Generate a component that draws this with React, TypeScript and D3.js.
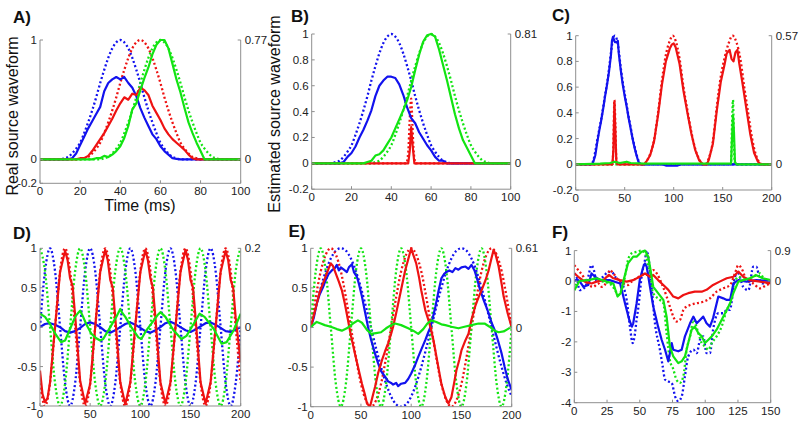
import React from 'react';
import * as d3 from 'd3';

type Pt = [number, number];

// ---------- shared grids / ticks ----------
const timeAB = d3.range(0, 101, 2);
const grid5 = d3.range(0, 201, 5);
const xTicksAB = [0, 20, 40, 60, 80, 100];
const xTicks200 = [0, 50, 100, 150, 200];
const xTicksF = [0, 25, 50, 75, 100, 125, 150];
const yTicksA = [-0.2, 0, 1];
const yTicksBC = [-0.2, 0, 0.2, 0.4, 0.6, 0.8, 1];
const yTicksDE = [-1, -0.5, 0, 0.5, 1];
const yTicksF = [-4, -3, -2, -1, 0, 1];

// ---------- Panel A (x = 0..100 step 2) ----------
const aBlueDot = [0,0,0,0,0, 0,0.01,0.02,0.05,0.09, 0.14,0.22,0.31,0.41,0.52, 0.64,0.75,0.85,0.93,0.98, 1,0.98,0.93,0.85,0.75, 0.64,0.52,0.41,0.31,0.22, 0.14,0.09,0.05,0.02,0.01, 0,0,0,0,0,0,0,0,0,0,0,0,0,0,0,0];
const aRedDot = [0,0,0,0,0,0,0,0,0,0, 0,0.01,0.02,0.05,0.09, 0.14,0.22,0.31,0.41,0.52, 0.64,0.75,0.85,0.93,0.98, 1,0.98,0.93,0.85,0.75, 0.64,0.52,0.41,0.31,0.22, 0.14,0.09,0.05,0.02,0.01, 0,0,0,0,0,0,0,0,0,0,0];
const aGreenDot = [0,0,0,0,0,0,0,0,0,0,0,0,0,0,0, 0,0.01,0.02,0.05,0.09, 0.14,0.22,0.31,0.41,0.52, 0.64,0.75,0.85,0.93,0.98, 1,0.98,0.93,0.85,0.75, 0.64,0.52,0.41,0.31,0.22, 0.14,0.09,0.05,0.02,0.01, 0,0,0,0,0,0];
const aBlueSolid = [0,0,0,0,0,0,0,0,0.01, 0.05,0.12,0.19,0.26,0.32,0.38,0.44,0.57,0.64,0.67,0.69,0.67,0.69,0.64,0.6,0.53,0.43,0.35,0.28,0.21,0.17,0.11,0.07,0.04,0.01, 0.005,0,0,0,0,0,0,0,0,0,0,0,0,0,0,0,0];
const aRedSolid = [0,0,0,0,0,0,0,0,0,0,0.01, 0.01,0.03,0.07,0.12,0.17,0.22,0.28,0.34,0.41,0.47,0.52,0.5,0.55,0.54,0.6,0.58,0.54,0.45,0.39,0.33,0.26,0.21,0.17,0.14,0.11,0.08,0.04,0.01, 0,0,0,0,0,0,0,0,0,0,0,0];
const aGreenSolid = [0,0,0,0,0,0,0,0,0,0,0,0,0,0,0.01, 0.01,0.03,0.02,0.04,0.07,0.11,0.18,0.28,0.42,0.47,0.58,0.68,0.77,0.88,0.96,1,1,0.93,0.8,0.67,0.56,0.43,0.31,0.22,0.14,0.07, 0,0,0,0,0,0,0,0,0,0];

// ---------- Panel B ----------
const bBlueDot = [0,0,0,0,0, 0,0.01,0.02,0.05,0.09, 0.14,0.22,0.31,0.41,0.52, 0.64,0.75,0.85,0.93,0.98, 1,0.98,0.93,0.85,0.75, 0.64,0.52,0.41,0.31,0.22, 0.14,0.09,0.05,0.02,0.01, 0,0,0,0,0,0,0,0,0,0,0,0,0,0,0,0];
const bGreenDot = [0,0,0,0,0,0,0,0,0,0,0,0,0,0,0, 0,0.01,0.02,0.05,0.09, 0.14,0.22,0.31,0.41,0.52, 0.64,0.75,0.85,0.93,0.98, 1,0.98,0.93,0.85,0.75, 0.64,0.52,0.41,0.31,0.22, 0.14,0.09,0.05,0.02,0.01, 0,0,0,0,0,0];
const bRedDot: Pt[] = [[0,0],[47.5,0],[48.5,0.08],[49.3,0.35],[50,0.5],[50.6,0.3],[51.3,0.08],[52.3,0],[100,0]];
const bBlueSolid = [0,0,0,0,0,0,0,0,0.01, 0.05,0.08,0.13,0.2,0.26,0.33,0.41,0.52,0.6,0.64,0.67,0.67,0.66,0.61,0.53,0.43,0.35,0.31,0.24,0.19,0.14,0.1,0.05,0.02,0.02, 0,0,0,0,0,0,0,0,0,0,0,0,0,0,0,0,0];
const bRedSolid: Pt[] = [[0,0],[48.5,0],[49.3,0.1],[50,0.28],[50.7,0.14],[51.6,0],[100,0]];
const bGreenSolid = [0,0,0,0,0,0,0,0,0,0,0,0,0,0,0.01, 0.02,0.06,0.07,0.1,0.15,0.2,0.27,0.34,0.41,0.49,0.59,0.72,0.84,0.94,0.99,1,0.98,0.88,0.76,0.64,0.51,0.38,0.27,0.18,0.12,0.06, 0,0,0,0,0,0,0,0,0,0];

// ---------- Panel C ----------
const cBlueDot: Pt[] = [[0,0],[16,0],[18,0.03],[20,0.1],[22,0.19],[24,0.27],[26,0.35],[28,0.44],[30,0.54],[32,0.63],[34,0.74],[36,0.87],[38,0.97],[40,1],[42,0.97],[44,0.88],[46,0.75],[48,0.64],[50,0.55],[52,0.46],[54,0.37],[56,0.29],[58,0.21],[60,0.14],[62,0.08],[64,0.03],[66,0.005],[68,0],[200,0]];
const cRedDot: Pt[] = [[0,0],[37.5,0],[38.5,0.15],[39.5,0.5],[40.5,0.3],[41.5,0.02],[42.5,0],[70,0],[72,0.02],[76,0.08],[80,0.19],[84,0.4],[88,0.65],[92,0.85],[96,0.96],[99,1],[102,0.96],[106,0.82],[110,0.6],[114,0.42],[118,0.25],[122,0.12],[126,0.04],[130,0],[132,0],[136,0.05],[140,0.18],[144,0.45],[148,0.68],[152,0.83],[156,0.94],[160,1],[164,0.95],[168,0.82],[172,0.6],[176,0.4],[180,0.2],[184,0.07],[188,0.01],[190,0],[200,0]];
const cGreenDot: Pt[] = [[0,0],[158.5,0],[159.5,0.3],[160.5,0.5],[161.5,0.15],[162.5,0],[200,0]];
const cBlueSolid: Pt[] = [[0,0],[17,0],[18,0.02],[20,0.07],[22,0.17],[24,0.26],[26,0.34],[28,0.43],[30,0.53],[32,0.62],[34,0.72],[36,0.85],[37,0.96],[38,0.99],[39,0.97],[40,0.95],[42,0.95],[43,0.96],[44,0.86],[46,0.73],[48,0.62],[50,0.53],[52,0.45],[54,0.36],[56,0.28],[58,0.2],[60,0.13],[62,0.07],[64,0.02],[66,0],[88,0],[92,-0.01],[104,-0.01],[108,0],[200,0]];
const cRedSolid: Pt[] = [[0,0],[37.5,0],[38.5,0.12],[39.5,0.48],[40.5,0.25],[41.5,0.02],[42.5,0],[70,0],[72,0.02],[76,0.07],[80,0.18],[84,0.38],[88,0.62],[92,0.8],[96,0.9],[98,0.93],[100,0.94],[102,0.91],[106,0.78],[110,0.57],[114,0.4],[118,0.24],[122,0.11],[126,0.03],[130,0],[134,0],[136,0.04],[140,0.16],[144,0.42],[148,0.64],[152,0.78],[154,0.86],[157,0.89],[159,0.82],[161,0.8],[163,0.87],[165,0.89],[167,0.78],[170,0.64],[174,0.44],[178,0.24],[182,0.09],[186,0.02],[189,0],[200,0]];
const cGreenSolid: Pt[] = [[0,0],[25,0.005],[35,0.01],[40,0.02],[45,0.01],[52,0.02],[56,0.01],[70,0.005],[100,0.005],[158.5,0.005],[159.5,0.2],[160.5,0.38],[161.5,0.25],[162.5,0.02],[164,0],[200,0]];

// ---------- Panel D (dotted: x = 0..200 step 5) ----------
const dBlueDot = [0,0.71,1,0.71,0,-0.71,-1,-0.71, 0,0.71,1,0.71,0,-0.71,-1,-0.71, 0,0.71,1,0.71,0,-0.71,-1,-0.71, 0,0.71,1,0.71,0,-0.71,-1,-0.71, 0,0.71,1,0.71,0,-0.71,-1,-0.71, 0];
const dRedDot = [-0.71,-1,-0.71,0,0.71,1,0.71,0, -0.71,-1,-0.71,0,0.71,1,0.71,0, -0.71,-1,-0.71,0,0.71,1,0.71,0, -0.71,-1,-0.71,0,0.71,1,0.71,0, -0.71,-1,-0.71,0,0.71,1,0.71,0, -0.71];
const dGreenDot = [1,0.71,0,-0.71,-1,-0.71,0,0.71, 1,0.71,0,-0.71,-1,-0.71,0,0.71, 1,0.71,0,-0.71,-1,-0.71,0,0.71, 1,0.71,0,-0.71,-1,-0.71,0,0.71, 1,0.71,0,-0.71,-1,-0.71,0,0.71, 1];
const dBlueSolid: Pt[] = [[0,0],[5,0.04],[10,0.05],[15,0.03],[20,0],[25,-0.05],[30,-0.07],[35,-0.05],[40,-0.01],[45,0.04],[50,0.06],[55,0.04],[60,0],[65,-0.05],[70,-0.07],[75,-0.04],[80,0],[85,0.04],[90,0.06],[95,0.03],[100,-0.01],[105,-0.05],[110,-0.07],[115,-0.04],[120,0],[125,0.05],[130,0.07],[135,0.04],[140,0],[145,-0.04],[150,-0.06],[155,-0.03],[160,0.01],[165,0.05],[170,0.06],[175,0.03],[180,-0.01],[185,-0.05],[190,-0.06],[195,-0.03],[200,0]];
const dRedSolid: Pt[] = [[0,-0.55],[2.5,-0.85],[5,-0.95],[7.5,-0.9],[10,-0.7],[15,0],[20,0.7],[25,0.97],[27.5,0.85],[30,0.62],[32.5,0.52],[35,0.15],[40,-0.68],[45,-0.97],[50,-0.72],[55,0],[60,0.7],[65,0.98],[67.5,0.85],[70,0.6],[72.5,0.5],[75,0.12],[80,-0.7],[85,-0.98],[90,-0.7],[95,0.02],[100,0.7],[105,0.98],[107.5,0.85],[110,0.62],[112.5,0.5],[115,0.12],[120,-0.7],[125,-0.97],[130,-0.7],[135,0],[140,0.7],[145,0.98],[147.5,0.85],[150,0.6],[152.5,0.5],[155,0.12],[160,-0.7],[165,-0.97],[170,-0.7],[175,0],[180,0.7],[185,0.97],[187.5,0.85],[190,0.6],[192.5,0.5],[195,0.12],[200,-0.45]];
const dGreenSolid: Pt[] = [[0,0.17],[5,0.13],[10,0.04],[15,-0.08],[21,-0.19],[25,-0.17],[30,-0.02],[35,0.13],[38,0.18],[40,0.21],[43,0.13],[46,0.04],[51,-0.08],[56,-0.14],[60,-0.17],[63,-0.15],[70,0],[76,0.13],[80,0.23],[82,0.18],[85,0.13],[91,0],[98,-0.13],[101,-0.15],[106,-0.04],[113,0.08],[117,0.15],[120,0.19],[125,0.13],[133,-0.04],[141,-0.15],[146,-0.11],[153,0.04],[159,0.17],[164,0.13],[173,-0.02],[181,-0.21],[186,-0.19],[193,-0.04],[200,0.17]];

// ---------- Panel E (dotted: x = 0..200 step 5) ----------
const eBlueDot = [0,0.26,0.5,0.71,0.87,0.97,1,0.97,0.87,0.71,0.5,0.26,0,-0.26,-0.5,-0.71,-0.87,-0.97,-1,-0.97,-0.87,-0.71,-0.5,-0.26,0,0.26,0.5,0.71,0.87,0.97,1,0.97,0.87,0.71,0.5,0.26,0,-0.26,-0.5,-0.71,-0.87];
const eRedDot = [0,0.38,0.71,0.92,1,0.92,0.71,0.38,0,-0.38,-0.71,-0.92,-1,-0.92,-0.71,-0.38, 0,0.38,0.71,0.92,1,0.92,0.71,0.38,0,-0.38,-0.71,-0.92,-1,-0.92,-0.71,-0.38, 0,0.38,0.71,0.92,1,0.92,0.71,0.38,0];
const eGreenDot = [0,0.71,1,0.71,0,-0.71,-1,-0.71, 0,0.71,1,0.71,0,-0.71,-1,-0.71, 0,0.71,1,0.71,0,-0.71,-1,-0.71, 0,0.71,1,0.71,0,-0.71,-1,-0.71, 0,0.71,1,0.71,0,-0.71,-1,-0.71, 0];
const eBlueSolid: Pt[] = [[0,0],[3,0.12],[6,0.3],[9,0.42],[12,0.5],[15,0.6],[18,0.68],[21,0.72],[24,0.75],[26,0.79],[28,0.72],[30,0.76],[33,0.73],[36,0.7],[38,0.76],[41,0.8],[43,0.7],[46,0.64],[48,0.55],[51,0.39],[54,0.2],[57,0.01],[60,-0.15],[64,-0.33],[67,-0.45],[70,-0.55],[74,-0.62],[77,-0.68],[80,-0.7],[82,-0.72],[85,-0.7],[87,-0.74],[90,-0.71],[94,-0.7],[97,-0.65],[100,-0.58],[104,-0.47],[107,-0.37],[110,-0.28],[114,-0.16],[117,-0.06],[119,0],[122,0.15],[124,0.26],[127,0.45],[130,0.62],[133,0.68],[135,0.7],[138,0.72],[141,0.7],[144,0.75],[147,0.73],[150,0.76],[154,0.77],[157,0.74],[160,0.79],[163,0.72],[165,0.64],[168,0.5],[172,0.35],[175,0.25],[177,0.18],[180,0.06],[183,-0.03],[186,-0.15],[190,-0.33],[193,-0.5],[196,-0.65],[198,-0.72],[200,-0.79]];
const eRedSolid: Pt[] = [[0,0],[3,0.15],[6,0.3],[9,0.45],[12,0.55],[15,0.65],[18,0.75],[20,0.81],[22,0.78],[25,0.68],[28,0.58],[31,0.47],[34,0.3],[37,0.1],[40,-0.1],[44,-0.33],[48,-0.55],[51,-0.71],[54,-0.85],[56,-0.96],[59,-1],[61,-0.9],[64,-0.75],[67,-0.58],[71,-0.41],[74,-0.3],[77,-0.2],[80,-0.08],[82,0.01],[85,0.18],[87,0.3],[90,0.48],[94,0.72],[97,0.86],[100,1],[102,0.92],[105,0.81],[108,0.62],[110,0.47],[114,0.22],[117,0.1],[119,0.01],[122,-0.15],[124,-0.29],[127,-0.5],[130,-0.71],[134,-0.88],[137,-0.96],[140,-0.88],[143,-0.68],[145,-0.54],[148,-0.4],[150,-0.29],[154,-0.16],[157,-0.08],[160,0.1],[164,0.28],[167,0.38],[170,0.47],[174,0.6],[177,0.72],[180,0.88],[182,0.98],[184,0.92],[187,0.77],[190,0.55],[192,0.39],[196,0.18],[200,0]];
const eGreenSolid: Pt[] = [[0,0],[3,0.04],[6,0.07],[10,0.05],[14,0.03],[20,0.01],[26,-0.02],[31,-0.04],[36,-0.01],[42,0.05],[47,0.09],[51,0.06],[56,-0.03],[60,-0.08],[65,-0.07],[70,-0.06],[75,-0.01],[80,0.03],[84,0.05],[90,0.03],[97,-0.01],[102,-0.04],[107,-0.08],[112,-0.02],[116,0.05],[120,0.09],[125,0.07],[130,0.04],[134,0.03],[140,0.01],[147,-0.01],[153,0.01],[160,0.03],[167,0.05],[173,0.05],[178,0.01],[183,-0.04],[187,-0.06],[192,-0.05],[196,-0.02],[200,0.01]];

// ---------- Panel F ----------
const fBlueDot: Pt[] = [[0,0.25],[2,0.1],[4,-0.3],[7,-0.25],[9,-0.13],[11,0.2],[13,0.52],[15,0.35],[17,0],[19,0.05],[22,0.14],[26,0.3],[28.5,0.3],[32,0.09],[36,-0.02],[38,-0.25],[40,-0.62],[42.5,-1.5],[44.6,-2.04],[46,-1.82],[47.5,-1.3],[49,-0.84],[51.4,0.14],[54,0.69],[55.3,1],[56.5,0.8],[59,-0.19],[61.6,-1.39],[65.4,-2.26],[67.5,-2.8],[69.3,-3.24],[71.8,-3.3],[74.4,-3.35],[77,-3.8],[79.4,-3.95],[82,-3.8],[84.5,-3.13],[87,-2.48],[91,-2.26],[93.5,-2.37],[96,-1.93],[98.5,-1.82],[101,-2.37],[103.6,-2.37],[106,-1.6],[110,-1.06],[113.8,-1.06],[116.4,-0.95],[119,-0.95],[120,-0.73],[122.7,0.14],[125,0.25],[129,-0.19],[133,-0.3],[136.7,0.47],[139,0.47],[141.8,0.03],[144,-0.08],[150,-0.02]];
const fRedDot: Pt[] = [[0,0.52],[3,0.36],[7,0.14],[10.7,-0.13],[14.5,-0.19],[18.3,-0.08],[21,-0.19],[24.7,-0.02],[27,0.36],[29.8,0.25],[33.6,0.03],[37.4,-0.08],[41,-0.13],[43.8,-0.02],[47.6,0.09],[52.7,0.2],[56.5,0.2],[60.3,0.36],[63,0.25],[66.7,-0.08],[70.5,-0.51],[73,-0.84],[75.6,-1.17],[78,-1.33],[80.7,-1.28],[83.3,-0.95],[85.8,-0.84],[88.4,-0.79],[93.5,-0.73],[98.5,-0.68],[103.6,-0.57],[108.7,-0.35],[113.8,-0.24],[119,-0.13],[122.7,0.25],[125.3,0.52],[127.8,0.41],[131.6,0.03],[136.7,-0.08],[141.8,-0.24],[146.9,-0.13],[150,-0.08]];
const fGreenDot: Pt[] = [[0,-0.3],[3,0.03],[8,0.03],[14.5,0.09],[22,-0.02],[28.5,-0.13],[31,-0.29],[33.6,-0.46],[35,-0.4],[37,-0.19],[40,0.47],[41,0.69],[43.8,0.91],[47.6,0.96],[51.4,1],[54,0.91],[56.5,0.47],[60.3,-0.4],[65.4,-0.62],[68,-0.73],[70.5,-1.71],[73,-2.6],[75.6,-2.9],[78,-3.24],[80.7,-3.35],[83.3,-3.13],[85.8,-2.26],[88.4,-1.82],[91,-1.28],[94.7,-1.71],[97.3,-2.04],[99.8,-2.15],[102.4,-2.26],[105,-2.04],[108.7,-1.82],[112.5,-1.5],[116.4,-0.95],[119,-0.73],[121.5,-0.19],[125.3,0.14],[130.4,0.03],[136.7,0.14],[141.8,0.25],[145.7,0.03],[150,0.03]];
const fBlueSolid: Pt[] = [[0,0],[2,0.05],[4,0],[7,-0.19],[10.7,-0.13],[13.2,0.25],[15.8,0.14],[19.6,0.03],[27,0.03],[35,-0.08],[38.7,-0.73],[42,-1.28],[44,-1.5],[45,-1.39],[47.6,-0.73],[50,0.03],[52.7,0.47],[54,0.58],[55.3,0.47],[57.8,-0.19],[60.3,-0.84],[64,-1.5],[66.7,-1.93],[69.3,-2.26],[71.8,-2.64],[73,-2.37],[74.4,-2.04],[75.6,-2.26],[79.4,-2.31],[82,-2.26],[84.5,-1.82],[88.4,-1.39],[91,-1.17],[93.5,-1.39],[96,-1.28],[98.5,-1.17],[101,-1.39],[103.6,-1.5],[106,-1.22],[110,-0.51],[113.8,-0.57],[116.4,-0.62],[119,-0.62],[121.5,-0.08],[125.3,0.03],[131.6,-0.02],[139,0.03],[150,0]];
const fRedSolid: Pt[] = [[0,0.25],[3,0.14],[8,-0.02],[13.2,-0.08],[17,-0.02],[22,0.03],[26.5,0.2],[29.8,0.09],[35,0.03],[40,-0.02],[45,0.03],[50,0.14],[54,0.25],[57.8,0.14],[60.3,0.2],[64,0.03],[68,-0.13],[71.8,-0.29],[75.6,-0.51],[79.4,-0.57],[83.3,-0.46],[87,-0.4],[92,-0.35],[97.3,-0.35],[101,-0.29],[106,-0.13],[111,-0.02],[116.4,0.09],[121.5,0.14],[125.3,0.31],[129,0.14],[134,0.03],[141.8,-0.02],[150,-0.08]];
const fGreenSolid: Pt[] = [[0,-0.3],[4,0],[10.7,0.03],[17,0.09],[24.7,-0.02],[29.8,-0.08],[33,-0.51],[35.4,-0.4],[37.4,-0.02],[41,0.58],[45,0.8],[47.6,0.8],[51.4,0.96],[54,1],[56.5,0.8],[57.8,0.47],[60.3,-0.19],[64,-0.4],[68,-0.62],[70.5,-1.17],[73,-2.15],[75.6,-2.48],[79.4,-2.7],[82,-2.64],[84.5,-2.48],[87,-2.04],[89.6,-1.6],[92,-1.5],[94.7,-1.71],[97.3,-1.82],[99.8,-2.04],[102.4,-1.93],[105,-1.82],[108.7,-1.6],[112.5,-1.28],[116.4,-0.95],[119,-0.73],[121.5,-0.4],[125.3,-0.02],[129,0.03],[134,0.09],[139,0.19],[144,0.09],[150,0.03]];

// ---------- styling ----------
const BLUE = '#1212ee';
const RED = '#ee1212';
const GREEN = '#12e412';
const AXIS = '#8f8f8f';
const TXT = '#222';
const FONT = "'Liberation Sans', Arial, Helvetica, sans-serif";

const zip = (xs: number[], ys: number[]): Pt[] => ys.map((y, i) => [xs[i], y] as Pt);

interface Series { data: Pt[]; color: string; dotted: boolean }
interface Panel {
  key: string; letter: string; lx: number; ly: number;
  l: number; r: number; t: number; b: number;
  xDomain: [number, number]; yDomain: [number, number];
  xTicks: number[]; yTicks: number[]; rightLabel: string; series: Series[];
}

const S = (data: Pt[], color: string, dotted: boolean): Series => ({ data, color, dotted });

const panels: Panel[] = [
  { key: 'A', letter: 'A)', lx: 13, ly: 23, l: 40, r: 240.7, t: 40, b: 183.3, xDomain: [0, 100], yDomain: [-0.2, 1], xTicks: xTicksAB, yTicks: yTicksA, rightLabel: '0.77',
    series: [S(zip(timeAB, aBlueDot), BLUE, true), S(zip(timeAB, aRedDot), RED, true), S(zip(timeAB, aGreenDot), GREEN, true),
             S(zip(timeAB, aBlueSolid), BLUE, false), S(zip(timeAB, aRedSolid), RED, false), S(zip(timeAB, aGreenSolid), GREEN, false)] },
  { key: 'B', letter: 'B)', lx: 291, ly: 22, l: 311.7, r: 510.7, t: 34, b: 189.2, xDomain: [0, 100], yDomain: [-0.2, 1], xTicks: xTicksAB, yTicks: yTicksBC, rightLabel: '0.81',
    series: [S(zip(timeAB, bBlueDot), BLUE, true), S(bRedDot, RED, true), S(zip(timeAB, bGreenDot), GREEN, true),
             S(zip(timeAB, bBlueSolid), BLUE, false), S(bRedSolid, RED, false), S(zip(timeAB, bGreenSolid), GREEN, false)] },
  { key: 'C', letter: 'C)', lx: 552, ly: 21, l: 575.7, r: 771.7, t: 35.7, b: 190, xDomain: [0, 200], yDomain: [-0.2, 1], xTicks: xTicks200, yTicks: yTicksBC, rightLabel: '0.57',
    series: [S(cBlueDot, BLUE, true), S(cRedDot, RED, true), S(cGreenDot, GREEN, true),
             S(cBlueSolid, BLUE, false), S(cRedSolid, RED, false), S(cGreenSolid, GREEN, false)] },
  { key: 'D', letter: 'D)', lx: 13, ly: 238.5, l: 40, r: 240.7, t: 248.3, b: 406, xDomain: [0, 200], yDomain: [-1, 1], xTicks: xTicks200, yTicks: yTicksDE, rightLabel: '0.2',
    series: [S(zip(grid5, dBlueDot), BLUE, true), S(zip(grid5, dRedDot), RED, true), S(zip(grid5, dGreenDot), GREEN, true),
             S(dBlueSolid, BLUE, false), S(dRedSolid, RED, false), S(dGreenSolid, GREEN, false)] },
  { key: 'E', letter: 'E)', lx: 288.5, ly: 236.8, l: 310.7, r: 511.7, t: 248.3, b: 406.7, xDomain: [0, 200], yDomain: [-1, 1], xTicks: xTicks200, yTicks: yTicksDE, rightLabel: '0.61',
    series: [S(zip(grid5, eBlueDot), BLUE, true), S(zip(grid5, eRedDot), RED, true), S(zip(grid5, eGreenDot), GREEN, true),
             S(eBlueSolid, BLUE, false), S(eRedSolid, RED, false), S(eGreenSolid, GREEN, false)] },
  { key: 'F', letter: 'F)', lx: 552, ly: 238.3, l: 574.3, r: 770.7, t: 250.6, b: 402.7, xDomain: [0, 150], yDomain: [-4, 1], xTicks: xTicksF, yTicks: yTicksF, rightLabel: '0.9',
    series: [S(fBlueDot, BLUE, true), S(fRedDot, RED, true), S(fGreenDot, GREEN, true),
             S(fBlueSolid, BLUE, false), S(fRedSolid, RED, false), S(fGreenSolid, GREEN, false)] },
];

const fmt = (v: number) => String(v);

function PanelView({ p }: { p: Panel }) {
  const x = d3.scaleLinear().domain(p.xDomain).range([p.l, p.r]);
  const y = d3.scaleLinear().domain(p.yDomain).range([p.b, p.t]);
  const dotLine = d3.line<Pt>().x(d => x(d[0])).y(d => y(d[1])).curve(d3.curveMonotoneX);
  const solLine = d3.line<Pt>().x(d => x(d[0])).y(d => y(d[1])).curve(d3.curveLinear);
  const clipId = `clip-${p.key}`;
  const y0 = y(0);
  return (
    <g>
      <defs>
        <clipPath id={clipId}>
          <rect x={p.l} y={p.t - 3} width={p.r - p.l} height={p.b - p.t + 3} />
        </clipPath>
      </defs>
      <g clipPath={`url(#${clipId})`}>
        {p.series.map((s, i) => (
          <path key={i} d={(s.dotted ? dotLine : solLine)(s.data) || ''} fill="none" stroke={s.color}
            strokeWidth={s.dotted ? 2.3 : 2.2} strokeDasharray={s.dotted ? '2 2.4' : undefined}
            strokeLinejoin="round" />
        ))}
      </g>
      <line x1={p.l} x2={p.l} y1={p.t} y2={p.b} stroke={AXIS} strokeWidth={1} />
      <line x1={p.r} x2={p.r} y1={p.t} y2={p.b} stroke={AXIS} strokeWidth={1} />
      <line x1={p.l} x2={p.r} y1={p.b} y2={p.b} stroke={AXIS} strokeWidth={1} />
      {p.yTicks.map(v => (
        <g key={'y' + v}>
          <line x1={p.l} x2={p.l + 3} y1={y(v)} y2={y(v)} stroke={AXIS} />
          <text x={p.l - 3} y={y(v)} dy="0.35em" textAnchor="end" fontSize={11.5} fill={TXT} fontFamily={FONT}>{fmt(v)}</text>
        </g>
      ))}
      {p.xTicks.map(v => (
        <g key={'x' + v}>
          <line x1={x(v)} x2={x(v)} y1={p.b} y2={p.b - 3} stroke={AXIS} />
          <text x={x(v)} y={p.b + 12} textAnchor="middle" fontSize={11.5} fill={TXT} fontFamily={FONT}>{fmt(v)}</text>
        </g>
      ))}
      <line x1={p.r} x2={p.r - 3} y1={p.t} y2={p.t} stroke={AXIS} />
      <line x1={p.r} x2={p.r - 3} y1={y0} y2={y0} stroke={AXIS} />
      <text x={p.r + 4} y={p.t} dy="0.35em" fontSize={11.5} fill={TXT} fontFamily={FONT}>{p.rightLabel}</text>
      <text x={p.r + 4} y={y0} dy="0.35em" fontSize={11.5} fill={TXT} fontFamily={FONT}>0</text>
      <text x={p.lx} y={p.ly} fontSize={17} fontWeight="bold" fill="#111" fontFamily={FONT}>{p.letter}</text>
    </g>
  );
}

export default function App() {
  return (
    <svg width={800} height={423} viewBox="0 0 800 423"
      style={{ position: 'absolute', left: 0, top: 0, background: '#fff', display: 'block' }}>
      <rect x={0} y={0} width={800} height={423} fill="#fff" />
      {panels.map(p => <PanelView key={p.key} p={p} />)}
      <text transform="translate(18,116) rotate(-90)" textAnchor="middle" fontSize={16} fill="#111" fontFamily={FONT}>Real source waveform</text>
      <text transform="translate(280,114) rotate(-90)" textAnchor="middle" fontSize={16} fill="#111" fontFamily={FONT}>Estimated source waveform</text>
      <text x={140} y={211} textAnchor="middle" fontSize={16} fill="#111" fontFamily={FONT}>Time (ms)</text>
    </svg>
  );
}
